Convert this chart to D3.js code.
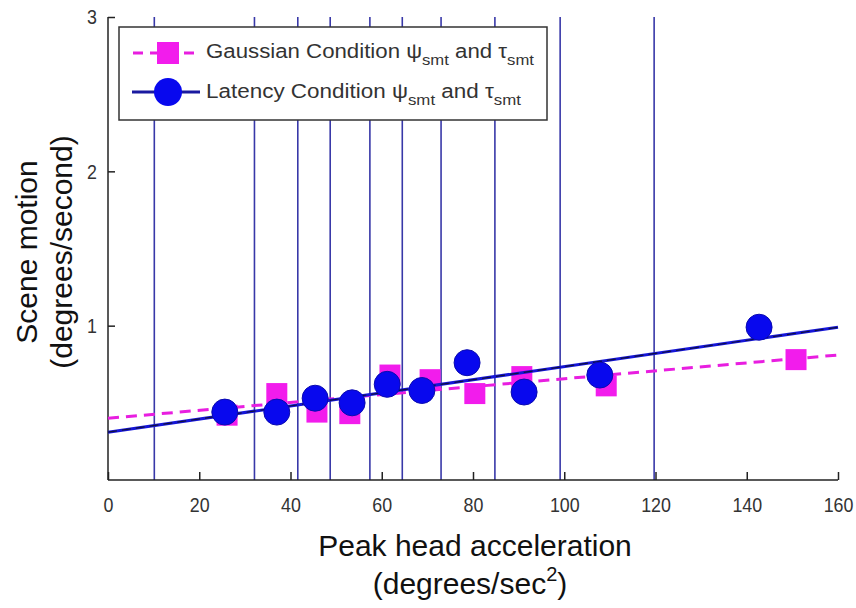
<!DOCTYPE html>
<html>
<head>
<meta charset="utf-8">
<script src="https://cdn.jsdelivr.net/npm/d3@7"></script>
<style>
  body { margin: 0; background: #fff; }
  text { font-family: "Liberation Sans", Arial, sans-serif; }
</style>
</head>
<body>
<div id="chart"></div>
<script>
// values
var gaussX = [26.1, 37.0, 45.8, 53.0, 61.8, 70.6, 80.4, 90.7, 109.2, 150.8];
var gaussY = [0.42, 0.56, 0.44, 0.43, 0.68, 0.65, 0.56, 0.67, 0.61, 0.78];
var latX = [25.6, 37.0, 45.4, 53.5, 61.2, 68.8, 78.7, 91.2, 107.8, 142.7];
var latY = [0.44, 0.44, 0.53, 0.50, 0.62, 0.58, 0.76, 0.57, 0.68, 0.99];
var gaussFitX = [0, 160], gaussFitY = [0.40, 0.81];
var latFitX = [0, 160], latFitY = [0.31, 0.99];
var vLines = [10.15, 32.1, 41.6, 48.7, 57.4, 64.5, 73.0, 84.8, 99.1, 119.7];
var xTicks = [0, 20, 40, 60, 80, 100, 120, 140, 160];
var yTicks = [1, 2, 3];

function init(){
    var w = 856, h = 608;
    var svg = d3.select("#chart").append("svg")
        .attr("width", w).attr("height", h);

    var x = d3.scaleLinear().domain([0, 160]).range([108, 838]);
    var y = d3.scaleLinear().domain([0, 3]).range([480, 17]);

    // vertical reference lines
    svg.selectAll(".vline").data(vLines).enter().append("line")
        .attr("x1", d => x(d)).attr("x2", d => x(d))
        .attr("y1", y(0)).attr("y2", y(3))
        .attr("stroke", "#3838a8").attr("stroke-width", 1.6);

    // axes (MATLAB style, ticks inside)
    var xAxis = svg.append("g").attr("transform", "translate(0," + y(0) + ")")
        .call(d3.axisTop(x).tickValues(xTicks).tickSize(8).tickFormat(d3.format("d")));
    xAxis.selectAll(".tick text").attr("y", 17).attr("dy", "0.71em");
    var yAxis = svg.append("g").attr("transform", "translate(" + x(0) + ",0)")
        .call(d3.axisRight(y).tickValues(yTicks).tickSize(7).tickFormat(d3.format("d")));
    yAxis.selectAll(".tick text").attr("x", -11).attr("text-anchor", "end");
    svg.selectAll(".domain").attr("stroke", "#222").attr("stroke-width", 1.5);
    svg.selectAll(".tick line").attr("stroke", "#222").attr("stroke-width", 1.5);
    svg.selectAll(".tick text").attr("font-size", 21).attr("fill", "#333")
        .attr("transform", function() {
            var t = d3.select(this);
            return "translate(" + (+t.attr("x") || 0) * 0.15 + ",0) scale(0.85,1)";
        });
    xAxis.select(".domain").attr("d", "M" + x(0) + ",0H" + x(160));
    yAxis.select(".domain").attr("d", "M0," + y(0) + "V" + y(3));

    var line = d3.line().x(d => x(d[0])).y(d => y(d[1]));

    // gaussian fit, dashed magenta
    svg.append("path").datum(d3.zip(gaussFitX, gaussFitY))
        .attr("d", line).attr("fill", "none")
        .attr("stroke", "#e81ee0").attr("stroke-width", 3)
        .attr("stroke-dasharray", "11,7");

    // gaussian squares
    var sq = 21;
    svg.selectAll(".sq").data(d3.zip(gaussX, gaussY)).enter().append("rect")
        .attr("x", d => x(d[0]) - sq / 2).attr("y", d => y(d[1]) - sq / 2)
        .attr("width", sq).attr("height", sq)
        .attr("fill", "#f21cec");

    // latency fit, blue with dark dash overlay
    svg.append("path").datum(d3.zip(latFitX, latFitY))
        .attr("d", line).attr("fill", "none")
        .attr("stroke", "#1515d8").attr("stroke-width", 3);
    svg.append("path").datum(d3.zip(latFitX, latFitY))
        .attr("d", line).attr("fill", "none")
        .attr("stroke", "#101040").attr("stroke-width", 1.2)
        .attr("stroke-dasharray", "9,5");

    // latency circles
    svg.selectAll(".ci").data(d3.zip(latX, latY)).enter().append("circle")
        .attr("cx", d => x(d[0])).attr("cy", d => y(d[1])).attr("r", 13)
        .attr("fill", "#0808ee").attr("stroke", "#0a0ab0").attr("stroke-width", 1);

    // legend
    var leg = svg.append("g");
    leg.append("rect").attr("x", 119).attr("y", 27).attr("width", 428).attr("height", 93)
        .attr("fill", "#fff").attr("stroke", "#333").attr("stroke-width", 1.5);
    leg.append("line").attr("x1", 133).attr("x2", 200).attr("y1", 53).attr("y2", 53)
        .attr("stroke", "#e81ee0").attr("stroke-width", 3).attr("stroke-dasharray", "10,7");
    leg.append("rect").attr("x", 157).attr("y", 42).attr("width", 22).attr("height", 22)
        .attr("fill", "#f21cec");
    leg.append("line").attr("x1", 132).attr("x2", 200).attr("y1", 92).attr("y2", 92)
        .attr("stroke", "#1a1aa0").attr("stroke-width", 3);
    leg.append("circle").attr("cx", 168).attr("cy", 92).attr("r", 14)
        .attr("fill", "#0808ee");

    var labels = [["Gaussian Condition ", 58, 328], ["Latency Condition ", 98, 315]];
    labels.forEach(function(l) {
        var t = leg.append("text").attr("x", 206).attr("y", l[1])
            .attr("font-size", 20).attr("fill", "#333")
            .attr("textLength", l[2]).attr("lengthAdjust", "spacingAndGlyphs");
        t.append("tspan").text(l[0] + "\u03c8");
        t.append("tspan").attr("dy", 7).attr("font-size", 15).text("smt");
        t.append("tspan").attr("dy", -7).text(" and \u03c4");
        t.append("tspan").attr("dy", 7).attr("font-size", 15).text("smt");
    });

    // axis titles
    svg.append("text").attr("x", 475).attr("y", 556).attr("text-anchor", "middle")
        .attr("font-size", 30).attr("fill", "#111").text("Peak head acceleration");
    var xt2 = svg.append("text").attr("x", 470).attr("y", 594).attr("text-anchor", "middle")
        .attr("font-size", 30).attr("fill", "#111");
    xt2.append("tspan").text("(degrees/sec");
    xt2.append("tspan").attr("dy", -13).attr("font-size", 20).text("2");
    xt2.append("tspan").attr("dy", 13).text(")");

    svg.append("text").attr("transform", "translate(37,252) rotate(-90)")
        .attr("text-anchor", "middle").attr("font-size", 30).attr("fill", "#111")
        .text("Scene motion");
    svg.append("text").attr("transform", "translate(72,252) rotate(-90)")
        .attr("text-anchor", "middle").attr("font-size", 30).attr("fill", "#111")
        .text("(degrees/second)");
}
window.onload = init;
</script>
</body>
</html>
